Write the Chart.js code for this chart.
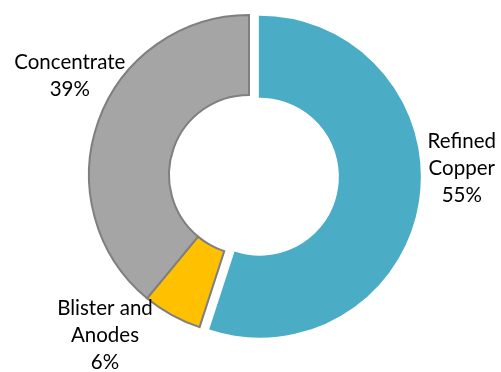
<!DOCTYPE html>
<html>
<head>
<meta charset="utf-8">
<script src="https://cdn.jsdelivr.net/npm/chart.js@4/dist/chart.umd.min.js"></script>
<style>
  html, body { margin: 0; padding: 0; background: #fff; }
  canvas { display: block; }
</style>
</head>
<body>
<canvas id="copperChart" width="501" height="372"></canvas>
<script>
// Copper shipments by product type
const categories = [['Refined', 'Copper'], ['Blister and', 'Anodes'], ['Concentrate']];
const shares = [55, 6, 39];
const sliceColors = ['#4BACC6', '#FFC000', '#A5A5A5'];

// Where each label block sits, relative to the ring centre, in outer-radius units
const labelSpots = [[1.33, -0.04], [-0.9, 1.0], [-1.12, -0.62]];

// Slides a slice out along its middle angle without changing its radii
// (the built-in `offset` option also grows the arc).
const pullOut = {
    id: 'pullOut',
    beforeDatasetsDraw(chart, args, opts) {
        const area = chart.chartArea;
        const cx = (area.left + area.right) / 2;
        const cy = (area.top + area.bottom) / 2;
        chart.getDatasetMeta(0).data.forEach((arc, i) => {
            const mid = (arc.startAngle + arc.endAngle) / 2;
            const d = opts.distance[i] || 0;
            arc.x = cx + Math.cos(mid) * d;
            arc.y = cy + Math.sin(mid) * d;
        });
    }
};

const sliceLabels = {
    id: 'sliceLabels',
    afterDatasetsDraw(chart) {
        const ctx = chart.ctx;
        const area = chart.chartArea;
        const cx = (area.left + area.right) / 2;
        const cy = (area.top + area.bottom) / 2;
        const arcs = chart.getDatasetMeta(0).data;
        const total = shares.reduce((a, b) => a + b, 0);
        ctx.save();
        ctx.font = '20.5px Lato';
        ctx.fillStyle = '#000';
        ctx.textAlign = 'center';
        ctx.textBaseline = 'middle';
        const lineHeight = 27;
        arcs.forEach((arc, i) => {
            const lines = categories[i].concat(Math.round(shares[i] / total * 100) + '%');
            const x = cx + labelSpots[i][0] * arc.outerRadius;
            const y = cy + labelSpots[i][1] * arc.outerRadius;
            const top = y - (lines.length - 1) * lineHeight / 2;
            lines.forEach((line, j) => ctx.fillText(line, x, top + j * lineHeight));
        });
        ctx.restore();
    }
};

new Chart(document.getElementById('copperChart'), {
    type: 'doughnut',
    data: {
        labels: categories,
        datasets: [{
            data: shares,
            backgroundColor: sliceColors,
            borderColor: ['#4BACC6', '#7F7F7F', '#7F7F7F'],
            borderWidth: 2,
            borderJoinStyle: 'miter'
        }]
    },
    options: {
        responsive: false,
        animation: false,
        cutout: '50%',
        layout: { padding: { top: 14, bottom: 36, left: 0, right: 3 } },
        plugins: {
            legend: { display: false },
            tooltip: { enabled: false },
            pullOut: { distance: [11, 0, 0] }
        }
    },
    plugins: [pullOut, sliceLabels]
});
</script>
</body>
</html>
